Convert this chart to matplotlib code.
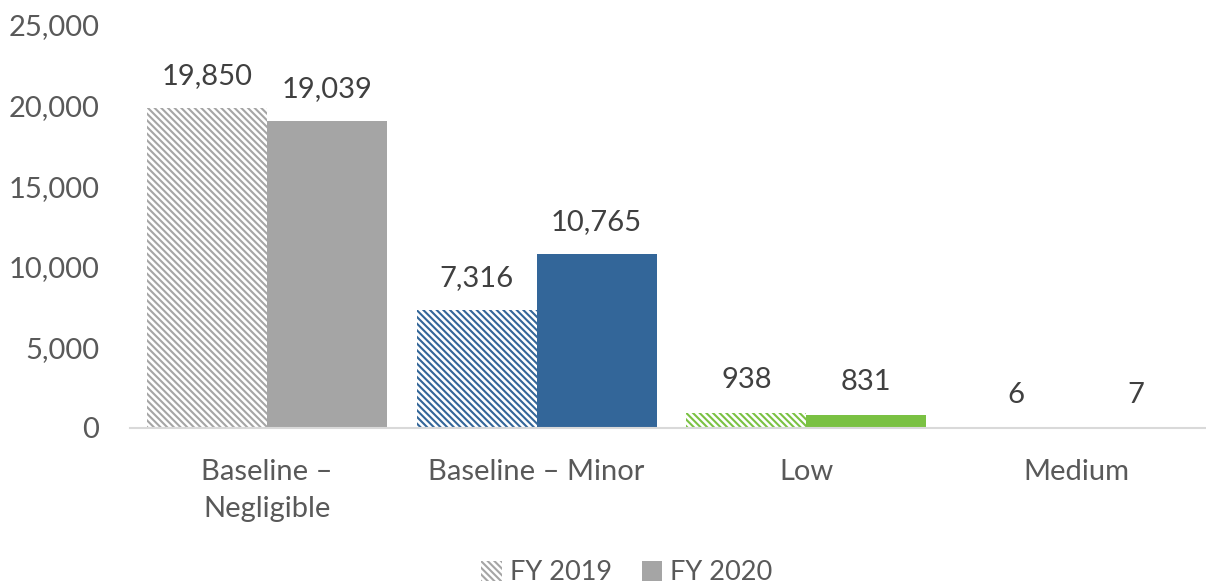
import matplotlib
matplotlib.use("Agg")
import matplotlib.pyplot as plt
from matplotlib.patches import Patch

categories = ["Baseline –\nNegligible", "Baseline – Minor", "Low", "Medium"]
fy2019 = [19850, 7316, 938, 6]
fy2020 = [19039, 10765, 831, 7]
series_names = ["FY 2019", "FY 2020"]
colors = ["#A5A5A5", "#336699", "#7AC143", "#4472C4"]
yticks = [0, 5000, 10000, 15000, 20000, 25000]

plt.rcParams['font.family'] = ['Lato', 'DejaVu Sans']
plt.rcParams['hatch.linewidth'] = 1.5

HATCH = "\\" * 5

W, H = 1206, 587
fig = plt.figure(figsize=(W/100, H/100), dpi=100)
ax = fig.add_axes([130/W, 1-428/H, (1206-130)/W, (428-25)/H])

bw = 0.445
x = list(range(len(categories)))
for i in x:
    c = colors[i]
    ax.bar(i - bw/2, fy2019[i], width=bw, facecolor="white", edgecolor=c,
           hatch=HATCH, linewidth=0)
    ax.bar(i + bw/2, fy2020[i], width=bw, color=c, linewidth=0)
    for xv, v in ((i - bw/2, fy2019[i]), (i + bw/2, fy2020[i])):
        ax.annotate(f"{v:,}", (xv, v), xytext=(0, 14), textcoords="offset points",
                    ha="center", va="bottom", fontsize=21, color="#404040")

ax.set_xlim(-0.508, 3.482)
ax.set_ylim(0, 25000)
ax.set_yticks(yticks)
ax.set_yticklabels([f"{t:,}" for t in yticks])
ax.set_xticks(x)
ax.set_xticklabels(categories, linespacing=1.55)
ax.tick_params(axis="y", length=0, pad=22, labelsize=21, labelcolor="#595959")
ax.tick_params(axis="x", length=0, pad=22, labelsize=21, labelcolor="#595959")
for s in ["top", "right", "left"]:
    ax.spines[s].set_visible(False)
ax.spines["bottom"].set_color("#D9D9D9")
ax.spines["bottom"].set_linewidth(1.5)

handles = [Patch(facecolor="white", edgecolor="#A5A5A5", hatch=HATCH, linewidth=0, label=series_names[0]),
           Patch(facecolor="#A5A5A5", linewidth=0, label=series_names[1])]
fig.legend(handles=handles, loc="center", bbox_to_anchor=(627/W, 1-573/H), ncol=2,
           frameon=False, fontsize=19.5, labelcolor="#595959", handlelength=0.75,
           handleheight=0.75, handletextpad=0.3, columnspacing=1.1)

fig.savefig("out.png", dpi=100)
